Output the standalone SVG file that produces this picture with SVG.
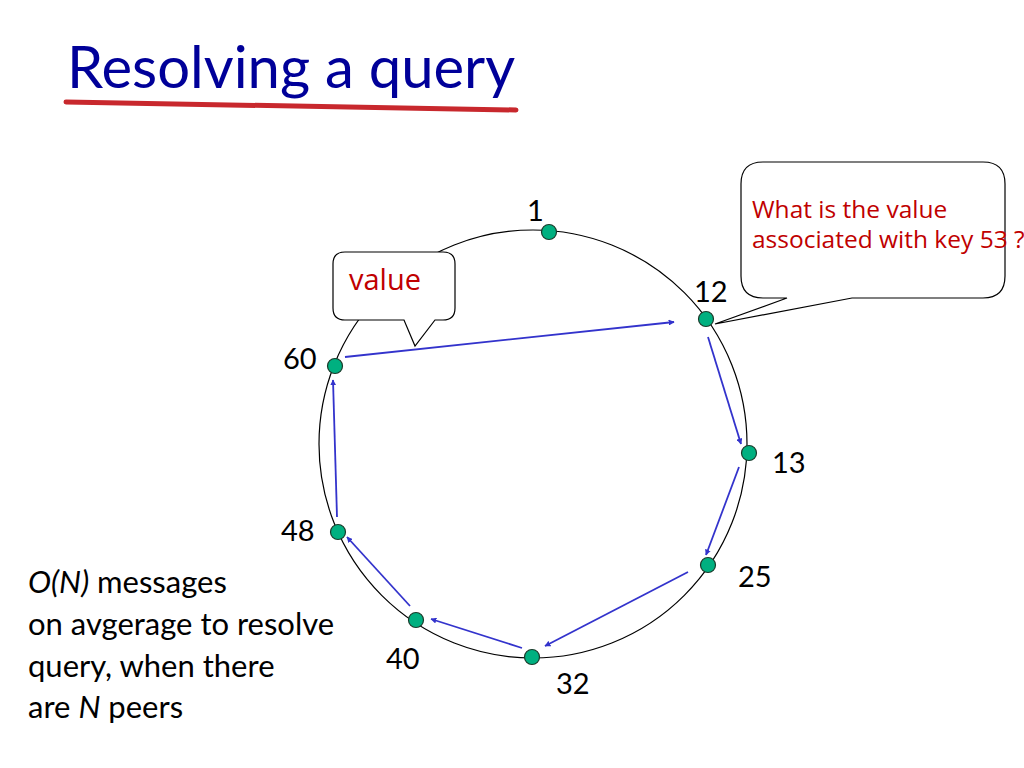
<svg xmlns="http://www.w3.org/2000/svg" width="1024" height="768" viewBox="0 0 1024 768">
<defs>
<style>
.lbl{font-family:Lato,"Open Sans","Liberation Sans",sans-serif;font-size:29px;fill:#000}
.node{fill:#00B080;stroke:#1a3a2a;stroke-width:1.2}
.conn{stroke:#3333CC;stroke-width:1.8;fill:none;marker-end:url(#ah)}
.call{fill:#fff;stroke:#000;stroke-width:1.2}
.red{font-family:"Open Sans","Liberation Sans",sans-serif;fill:#C00000}
.body{font-family:Lato,"Open Sans","Liberation Sans",sans-serif;font-size:31px;fill:#000}
</style>
<marker id="ah" viewBox="0 0 10 10" refX="9" refY="5" markerWidth="6" markerHeight="6" markerUnits="userSpaceOnUse" orient="auto">
<path d="M0,0 L10,5 L0,10 z" fill="#3333CC"/>
</marker>
</defs>
<rect width="1024" height="768" fill="#fff"/>
<g id="title">
<text x="67" y="88" font-family="Lato,'Open Sans','Liberation Sans',sans-serif" font-size="58" fill="#000099">Resolving a query</text>
<path d="M66,102 Q290,105 516,110" stroke="#C8282D" stroke-width="5" fill="none" stroke-linecap="round"/>
</g>
<g id="ring">
<circle cx="533" cy="444" r="214" fill="none" stroke="#000" stroke-width="1.2"/>
</g>
<g id="connectors">
<line class="conn" x1="345" y1="357" x2="674" y2="322"/>
<line class="conn" x1="708" y1="337" x2="741" y2="444"/>
<line class="conn" x1="739" y1="467" x2="706" y2="555"/>
<line class="conn" x1="688" y1="572" x2="545" y2="646"/>
<line class="conn" x1="522" y1="648" x2="431" y2="619"/>
<line class="conn" x1="410" y1="606" x2="347" y2="537"/>
<line class="conn" x1="337" y1="517" x2="333" y2="380"/>
</g>
<g id="node-1"><circle class="node" cx="549" cy="232" r="7.5"/><text class="lbl" x="527" y="221">1</text></g>
<g id="node-12"><circle class="node" cx="706" cy="319" r="7.5"/><text class="lbl" x="694" y="302">12</text></g>
<g id="node-13"><circle class="node" cx="749" cy="453" r="7.5"/><text class="lbl" x="772" y="473">13</text></g>
<g id="node-25"><circle class="node" cx="708" cy="565" r="7.5"/><text class="lbl" x="738" y="587">25</text></g>
<g id="node-32"><circle class="node" cx="532" cy="657" r="7.5"/><text class="lbl" x="556" y="694">32</text></g>
<g id="node-40"><circle class="node" cx="416" cy="620" r="7.5"/><text class="lbl" x="386" y="669">40</text></g>
<g id="node-48"><circle class="node" cx="338" cy="532" r="7.5"/><text class="lbl" x="281" y="541">48</text></g>
<g id="node-60"><circle class="node" cx="335" cy="366" r="7.5"/><text class="lbl" x="283" y="369">60</text></g>
<g id="callout-value">
<path class="call" d="M345,252 H443 Q455,252 455,264 V308 Q455,320 443,320 H435 L415,346 L404,320 H345 Q333,320 333,308 V264 Q333,252 345,252 Z"/>
<text class="red" x="349" y="290" font-size="29">value</text>
</g>
<g id="callout-query">
<path class="call" d="M763,162 H983 Q1005,162 1005,184 V276 Q1005,298 983,298 H852 L715,324 L787,298 H763 Q741,298 741,276 V184 Q741,162 763,162 Z"/>
<text class="red" x="752" y="218" font-size="24.5">What is the value</text>
<text class="red" x="752" y="248" font-size="24.5">associated with key 53 ?</text>
</g>
<g id="note">
<text class="body" x="28" y="593"><tspan font-style="italic">O(N)</tspan> messages</text>
<text class="body" x="28" y="635">on avgerage to resolve</text>
<text class="body" x="28" y="677">query, when there</text>
<text class="body" x="28" y="718">are <tspan font-style="italic">N</tspan> peers</text>
</g>
</svg>
